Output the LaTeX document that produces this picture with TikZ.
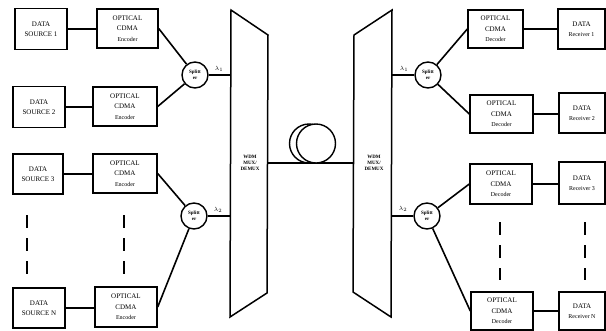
\documentclass[tikz,border=0pt]{standalone}
\usepackage{fontspec}
\setmainfont{Liberation Serif}
\begin{document}
\begin{tikzpicture}[x=1pt,y=-1pt,
  box/.style={draw, line width=1.4pt, inner sep=0pt, align=center, fill=white,
    font=\fontsize{7}{10.5}\selectfont},
  split/.style={draw, circle, line width=1.4pt, minimum size=26pt, inner sep=0pt,
    align=center, fill=white, font=\fontsize{5}{5.5}\selectfont\bfseries},
  link/.style={line width=1.6pt},
  thick link/.style={line width=2.2pt},
  dashline/.style={line width=2.2pt, dash pattern=on 13pt off 10pt},
  wdm/.style={draw, line width=1.5pt, fill=white},
  wdmtext/.style={font=\fontsize{5}{6}\selectfont\bfseries, align=center},
  lam/.style={font=\fontsize{6}{6}\selectfont, inner sep=0pt}
]
\clip (0,0) rectangle (606,330);
\fill[white] (0,0) rectangle (606,330);

% data sources
\node[box, minimum width=52pt, minimum height=41pt] (s1) at (41,29) {DATA\\SOURCE 1};
\node[box, minimum width=52pt, minimum height=41pt] (s2) at (39,107) {DATA\\SOURCE 2};
\node[box, minimum width=50pt, minimum height=40pt] (s3) at (38,174) {DATA\\SOURCE 3};
\node[box, minimum width=52pt, minimum height=40pt] (sN) at (39,308) {DATA\\SOURCE N};

% encoders
\node[box, minimum width=61pt, minimum height=39pt] (e1) at (127.5,28.5) {OPTICAL\\CDMA\\{\fontsize{6}{8}\selectfont Encoder}};
\node[box, minimum width=64pt, minimum height=39pt] (e2) at (125,106.5) {OPTICAL\\CDMA\\{\fontsize{6}{8}\selectfont Encoder}};
\node[box, minimum width=64pt, minimum height=39pt] (e3) at (125,173.5) {OPTICAL\\CDMA\\{\fontsize{6}{8}\selectfont Encoder}};
\node[box, minimum width=62pt, minimum height=40pt] (eN) at (126,307) {OPTICAL\\CDMA\\{\fontsize{6}{8}\selectfont Encoder}};

% left dashes
\draw[dashline] (27,215) -- (27,276);
\draw[dashline] (124,215) -- (124,276);

% splitters left
\node[split] (sl1) at (195,75) {Splitt\\er};
\node[split] (sl2) at (194,216) {Splitt\\er};

% WDM left trapezoid
\coordinate (LA) at (231,10);
\coordinate (LB) at (268,35);
\coordinate (LC) at (267,293);
\coordinate (LD) at (230,317);
\draw[wdm] (LA) -- (LB) -- (LC) -- (LD) -- cycle;
\node[wdmtext] (wl) at (250,163) {WDM\\MUX/\\DEMUX};

% WDM right trapezoid
\coordinate (RA) at (354,35);
\coordinate (RB) at (392,10);
\coordinate (RC) at (391,317);
\coordinate (RD) at (353,292);
\draw[wdm] (RA) -- (RB) -- (RC) -- (RD) -- cycle;
\node[wdmtext] (wr) at (374,163) {WDM\\MUX/\\DEMUX};

% fiber
\coordinate (f1) at (267.5,163);
\coordinate (f2) at (353.5,163);
\draw[link] (f1) -- (f2);
\node[draw, circle, line width=1.4pt, minimum size=39pt, inner sep=0pt] (coilb) at (309,143.5) {};
\node[draw, circle, line width=1.4pt, minimum size=39pt, inner sep=0pt, fill=white] (coilf) at (316,143.5) {};

% right splitters
\node[split] (sr1) at (428,75) {Splitt\\er};
\node[split] (sr2) at (427,216) {Splitt\\er};

% decoders
\node[box, minimum width=55pt, minimum height=38pt] (d1) at (495.5,29) {OPTICAL\\CDMA\\{\fontsize{6}{8}\selectfont Decoder}};
\node[box, minimum width=63pt, minimum height=38pt] (d2) at (501.5,114) {OPTICAL\\CDMA\\{\fontsize{6}{8}\selectfont Decoder}};
\node[box, minimum width=62pt, minimum height=40pt] (d3) at (501,184) {OPTICAL\\CDMA\\{\fontsize{6}{8}\selectfont Decoder}};
\node[box, minimum width=62pt, minimum height=38pt] (dN) at (502,311) {OPTICAL\\CDMA\\{\fontsize{6}{8}\selectfont Decoder}};

% receivers
\node[box, minimum width=47pt, minimum height=40pt] (r1) at (581.5,29) {DATA\\{\fontsize{6}{8}\selectfont Receiver 1}};
\node[box, minimum width=46pt, minimum height=40pt] (r2) at (582,113) {DATA\\{\fontsize{6}{8}\selectfont Receiver 2}};
\node[box, minimum width=46pt, minimum height=42pt] (r3) at (582,183) {DATA\\{\fontsize{6}{8}\selectfont Receiver 3}};
\node[box, minimum width=46pt, minimum height=38pt] (rN) at (582,311) {DATA\\{\fontsize{6}{8}\selectfont Receiver N}};

% right dashes
\draw[dashline] (500,222) -- (500,280);
\draw[dashline] (585,222) -- (585,280);

% links source -> encoder
\draw[thick link] (s1.east) -- (e1.west |- s1.east);
\draw[thick link] (s2.east) -- (e2.west |- s2.east);
\draw[thick link] (s3.east) -- (e3.west |- s3.east);
\draw[thick link] (sN.east) -- (eN.west |- sN.east);

% encoders -> splitters
\draw[link] (e1.east) -- (sl1);
\draw[link] (e2.east) -- (sl1);
\draw[link] (e3.east) -- (sl2);
\draw[link] (eN.east) -- (sl2);

% splitters -> wdm
\draw[link] (sl1.east) -- (sl1.east -| LA);
\draw[link] (sl2.east) -- (sl2.east -| LA);
\node[lam] (lm1) at (219,69) {$\lambda_1$};
\node[lam] (lm2) at (218,210) {$\lambda_2$};

\draw[link] (sr1.west) -- (sr1.west -| RB);
\draw[link] (sr2.west) -- (sr2.west -| RB);
\node[lam] (lm3) at (404,69) {$\lambda_1$};
\node[lam] (lm4) at (403,209) {$\lambda_2$};

% splitters -> decoders
\draw[link] (sr1) -- (d1.west);
\draw[link] (sr1) -- (d2.west);
\draw[link] (sr2) -- (d3.west);
\draw[link] (sr2) -- (dN.west);

% decoders -> receivers
\draw[thick link] (d1.east) -- (r1.west |- d1.east);
\draw[thick link] (d2.east) -- (r2.west |- d2.east);
\draw[thick link] (d3.east) -- (r3.west |- d3.east);
\draw[thick link] (dN.east) -- (rN.west |- dN.east);
\end{tikzpicture}
\end{document}
